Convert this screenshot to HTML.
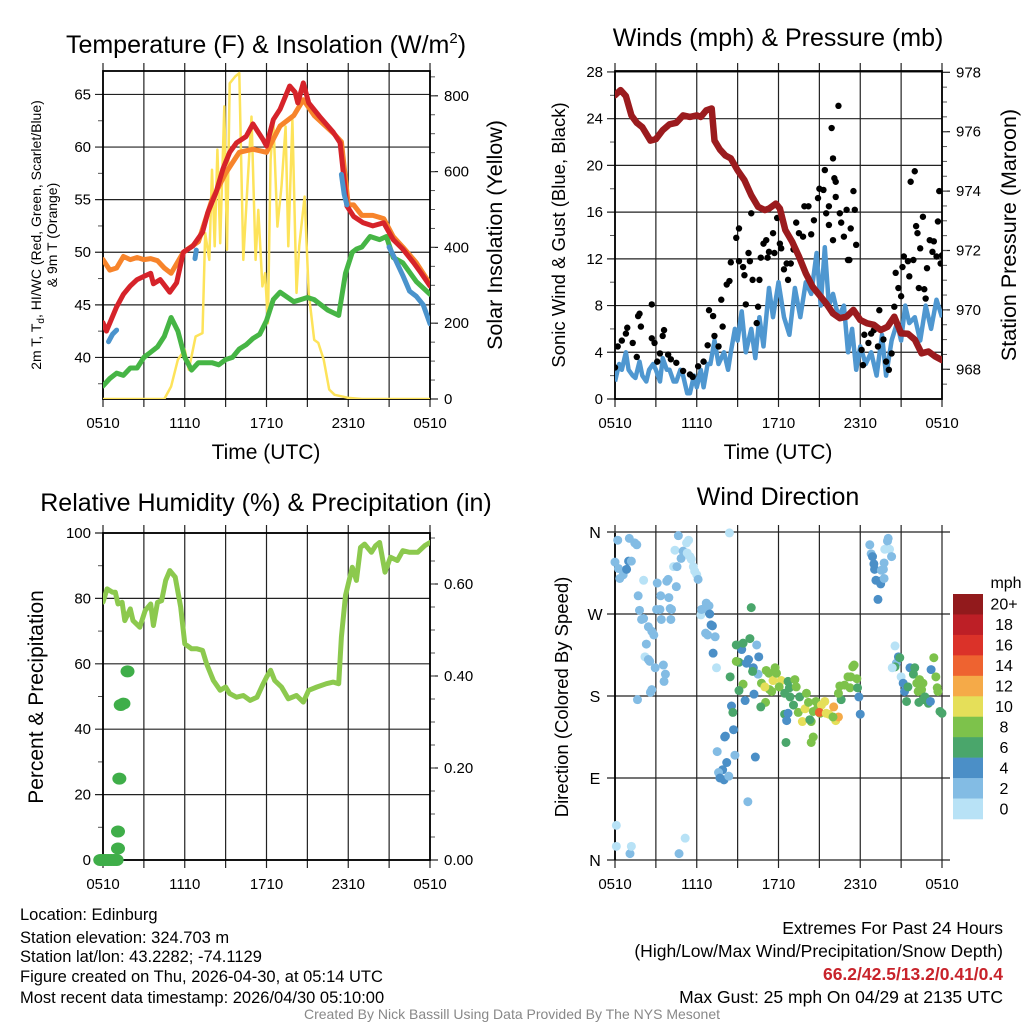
<!DOCTYPE html>
<html><head><meta charset="utf-8"><style>
html,body{margin:0;padding:0;background:#fff;}
svg{display:block;font-family:"Liberation Sans",Arial,sans-serif;}
</style></head><body>
<svg id="fig" width="1024" height="1024" viewBox="0 0 1024 1024" xmlns="http://www.w3.org/2000/svg">
<g id="layer"></g>
<text x="266" y="53" font-size="25" text-anchor="middle">Temperature (F) &amp; Insolation (W/m<tspan font-size="15" dy="-10">2</tspan><tspan dy="10">)</tspan></text>
<text x="778" y="46" font-size="25" text-anchor="middle">Winds (mph) &amp; Pressure (mb)</text>
<text x="266" y="511" font-size="25" text-anchor="middle">Relative Humidity (%) &amp; Precipitation (in)</text>
<text x="778" y="505" font-size="25" text-anchor="middle">Wind Direction</text>
<text x="266" y="459" font-size="21" text-anchor="middle">Time (UTC)</text>
<text x="778" y="459" font-size="21" text-anchor="middle">Time (UTC)</text>
<text transform="translate(41,235) rotate(-90)" font-size="14" text-anchor="middle">2m T, T<tspan font-size="10" dy="3">d</tspan><tspan dy="-3">, HI/WC (Red, Green, Scarlet/Blue)</tspan></text>
<text transform="translate(57,235) rotate(-90)" font-size="14" text-anchor="middle">&amp; 9m T (Orange)</text>
<text transform="translate(502,235) rotate(-90)" font-size="21.5" text-anchor="middle">Solar Insolation (Yellow)</text>
<text transform="translate(565,235) rotate(-90)" font-size="18.5" text-anchor="middle">Sonic Wind &amp; Gust (Blue, Black)</text>
<text transform="translate(1016,235) rotate(-90)" font-size="21.5" text-anchor="middle">Station Pressure (Maroon)</text>
<text transform="translate(43,697) rotate(-90)" font-size="21" text-anchor="middle">Percent &amp; Precipitation</text>
<text transform="translate(568,697) rotate(-90)" font-size="18.5" text-anchor="middle">Direction (Colored By Speed)</text>
<g font-size="16.5">
<text x="20" y="920">Location: Edinburg</text>
<text x="20" y="943">Station elevation: 324.703 m</text>
<text x="20" y="962">Station lat/lon: 43.2282; -74.1129</text>
<text x="20" y="982">Figure created on Thu, 2026-04-30, at 05:14 UTC</text>
<text x="20" y="1003">Most recent data timestamp: 2026/04/30 05:10:00</text>
</g>
<g font-size="17.5" text-anchor="end">
<text x="1003" y="934">Extremes For Past 24 Hours</text>
<text x="1003" y="957">(High/Low/Max Wind/Precipitation/Snow Depth)</text>
<text x="1003" y="980" fill="#c8232b" font-weight="bold">66.2/42.5/13.2/0.41/0.4</text>
<text x="1003" y="1003">Max Gust: 25 mph On 04/29 at 2135 UTC</text>
</g>
<text x="512" y="1019" font-size="14" fill="#888" text-anchor="middle">Created By Nick Bassill Using Data Provided By The NYS Mesonet</text>
</svg>
<script>
// ---------- data ----------
const xTickLabels=["0510","1110","1710","2310","0510"];
const tempTicks=[40,45,50,55,60,65];
const solarTicks=[0,200,400,600,800];
const windTicks=[0,4,8,12,16,20,24,28];
const presTicks=[968,970,972,974,976,978];
const rhTicks=[0,20,40,60,80,100];
const precipTicks=["0.00","0.20","0.40","0.60"];
const dirTicks=["N","E","S","W","N"];
const speedBins=["0","2","4","6","8","10","12","14","16","18","20+"];
const speedColors=["#b8e2f6","#83bce4","#4b8fc7","#4aa66b","#7dc24b","#e5df59","#f5aa48","#ee6330","#db3229","#bd1f26","#921a1c"];

const redH=[0,0.25,1,1.5,2,2.5,3,3.5,3.7,4.2,4.9,5.4,5.9,6.6,7.3,7.7,8.3,8.8,9.3,9.8,10.5,11,11.75,12,12.5,13,13.7,14.1,14.3,14.7,15.1,15.9,16.9,17.4,17.9,18.4,19.1,19.8,20.6,21.3,22,22.8,23.3,24];
const redV=[43.3,42.5,44.8,46,46.8,47.4,47.7,48,47,47.4,46.2,47.1,50,50.6,51.9,53.8,55.7,57.9,59.5,60.4,61,62.2,60.7,60.1,62.6,63.6,65.8,65.2,64.2,66.1,64.2,62.9,61.4,60.4,54.4,53.4,52.8,52.5,52.8,51.2,50.3,49,48.1,46.8];
const orangeH=[0,0.5,1,1.5,2,2.5,3,3.5,4,4.5,5,5.9,7,8,9,10,11,12,13,14,14.7,15.5,17,17.5,18,18.4,19,19.8,20.6,21.3,22,23,24];
const orangeV=[49.3,48.3,48.5,49.6,49.3,49.5,49.3,49.4,49.2,48.5,48,50,51,55,57.5,59.5,59.8,59.5,62,63,64.5,63,61.2,60.5,54.5,54.5,53.5,53.5,53.2,51.5,50.5,49,47];
const greenH=[0,0.5,1,1.5,2,2.5,3,3.5,4,4.5,5,5.5,6,6.5,7,8,8.5,9,9.5,10,10.5,11,11.5,12,12.5,13,14,14.5,15,15.5,16.5,17.3,17.8,18.3,18.6,19,19.6,20.3,20.8,21.3,22,23,24];
const greenV=[37.3,38,38.5,38.3,39,39,40,40.5,41,42,43.8,42.5,40,38.8,39.5,39.5,39.3,39.8,40,40.8,41.2,41.8,42.2,43.5,45.5,46.2,45.3,45.5,45.7,45.5,44.5,44,48,50,50.3,50.5,51.5,51.2,51.5,49.5,49,47.2,46];
const blueSegsH=[[0.4,0.7,1.0],[6.75,6.85],[17.5,17.7,17.9],[21,21.5,22,22.5,23,23.5,24]];
const blueSegsV=[[41.5,42.2,42.6],[49.4,50.2],[57.4,55.5,54.5],[50.5,49.2,47.8,46.3,45.8,45,43.2]];
const solarH=[0,4.5,5,5.5,6,6.3,6.8,7.3,7.5,7.8,8,8.2,8.4,8.6,8.9,9.1,9.3,9.7,10,10.3,10.6,10.9,11.2,11.4,11.7,11.9,12.1,12.3,12.5,12.8,13.1,13.4,13.6,13.9,14.2,14.4,14.8,15.1,15.5,15.8,16.2,16.6,17,17.5,18,19,24];
const solarV=[0,0,33,104,130,77,165,174,438,367,605,403,658,411,772,394,833,851,860,367,561,745,367,499,297,332,200,631,737,455,561,719,403,737,280,403,534,280,156,148,104,25,11,7,3,0,0];

const presH=[0,0.4,0.8,1.2,1.6,2,2.6,3,3.5,4,4.5,5,5.5,6,6.3,6.7,7.1,7.3,7.7,8.1,8.5,9,9.5,10,10.5,11,11.3,11.8,12.1,12.5,13,13.5,14,14.5,15,15.5,16,16.5,17,17.5,18,18.5,19,19.5,20,20.5,21,21.5,22,22.5,23,23.5,24];
const presV=[977.23,977.4,977.2,976.55,976.3,976.15,975.7,975.75,976.05,976.25,976.3,976.55,976.5,976.55,976.5,976.72,976.78,975.7,975.4,975.2,975.1,974.7,974.37,973.86,973.47,973.36,973.41,973.58,973.41,972.69,972.3,971.8,971.23,970.78,970.5,970.22,969.88,969.72,969.77,970,969.66,969.55,969.5,969.32,969.43,969.77,969.21,969.2,969,968.54,968.6,968.43,968.31];
const sonicH=[0,0.3,0.5,0.8,1,1.3,1.5,1.8,2,2.3,2.5,2.8,3,3.3,3.5,3.8,4,4.3,4.5,4.8,5,5.3,5.5,5.8,6,6.3,6.5,6.8,7,7.3,7.6,8,8.3,8.5,8.8,9,9.3,9.6,10,10.3,10.6,10.9,11.3,11.6,12,12.4,12.8,13.2,13.6,14,14.4,14.8,15.1,15.4,15.7,16,16.4,16.8,17.1,17.4,17.7,18,18.4,18.8,19.2,19.6,19.9,20.3,20.7,21,21.3,21.6,22,22.4,22.8,23.2,23.6,24];
const sonicV=[1.5,3,2.5,4,2.5,2,1.8,3.2,2,1.5,2.5,3,2.5,1.5,3.5,2.5,2.5,1.5,1.5,2.5,2,0.5,0.5,2,1,2.5,1,3,3,5,3,4,2.5,4,6,5,7.5,4,6,3.5,7,4.5,9.5,7,10,7,5.5,9.5,7,10,9,12.5,8,13,8,9,7,8,4,6,2.5,4.5,3,4,2,5.5,2,5,6.5,5,8,6.5,7,5,8,6,8.5,7];
const gustH=[0,0.2,0.5,0.8,0.9,1.3,1.6,1.7,1.9,1.8,2.7,2.7,2.9,3.1,3.3,3.5,3.6,3.9,4.1,4.5,5,5.5,5.7,6.1,6.5,6.8,6.9,7.2,7.3,7.6,7.8,7.9,8.2,8.4,8.5,8.9,9.1,9.1,9.4,9.5,9.6,9.8,9.9,10,10.1,10.4,10.5,10.6,10.7,10.9,11.1,11.2,11.3,11.6,11.7,11.9,12.1,12.2,12.4,12.6,12.7,12.9,13.1,13.3,13.5,13.8,13.9,14.2,14.4,14.6,14.9,15,15.3,15.4,15.5,15.7,15.7,15.9,16,16,16.1,16.2,16.4,16.2,16.5,16.6,16.8,17,17.1,17.2,17.3,17.5,17.6,17.7,18.1,18.2,18.3,18.6,18.8,19,19.3,19.4,19.7,19.9,20.1,20.3,20.5,20.6,20.8,21,21.1,21.2,21.5,21.6,21.7,21.9,22,22.1,22.2,22.3,22.4,22.6,22.7,22.8,22.9,23.1,23.3,23.4,23.6,23.7,23.8,23.9,24];
const gustV=[2.7,4.5,5,5.6,6.1,4.8,3.6,7.1,6.2,7.3,5.2,8.1,4.8,3.2,3.9,5.4,5.9,3.8,3.4,3.1,2.4,2.1,1.9,2.8,3.2,4.6,7.6,7.1,5.4,4.5,8.5,6.2,9.8,10.1,11.7,13.8,14.6,11.8,11.3,10.6,8.1,12.5,11.8,15.9,10.2,6.5,7.9,10.2,12.1,13.3,13.6,12.1,12.6,14.2,12.5,15.5,13.3,12.9,11.1,11.6,10.2,11.6,12.8,15.1,14.2,13.9,16.5,16.5,14.1,15.3,17.2,18,17.9,19.6,15.9,16.5,14.9,23.2,20.6,13.6,18.9,18.6,25.1,17.3,15.9,15.1,13.9,16.2,11.9,11.9,14.6,17.8,16.2,13.2,4.2,2.9,5.5,4.8,5.6,5.9,4.5,7.6,5.1,3.2,2.5,3.9,7.9,10.8,9.5,8.8,11.3,12.2,11.8,10.5,18.6,11.9,19.5,14.8,14.2,9.5,12.9,15.6,9.4,8.6,11.2,13.6,12.6,13.5,12.2,15.2,17.8,11.6,12.3];

const rhH=[0,0.3,0.7,0.9,1.1,1.4,1.6,2,2.2,2.7,3.1,3.5,3.7,4,4.3,4.6,4.9,5.3,5.7,6,6.5,6.9,7.3,7.6,8.1,8.6,9,9.3,9.8,10.3,10.8,11.3,11.7,12,12.3,12.6,13.1,13.6,14.2,14.7,15.1,15.7,16.4,16.9,17.3,17.5,17.8,18.3,18.6,18.9,19.2,19.7,20,20.3,20.7,21.1,21.6,22,22.5,23.1,23.6,24];
const rhV=[78.9,82.9,81.9,81.9,78.3,78.8,73.2,76.8,73.2,71.2,76.3,78.3,71.7,78.8,79.3,85.5,88.5,86.5,77.3,66.1,64.6,64.6,64.1,60,54.9,51.9,52.9,50.9,49.8,50.3,48.8,49.8,53.4,55.9,58,54.9,52.9,49.3,50.3,48.3,51.9,52.9,53.9,54.4,53.9,68.2,80.9,89.5,85.5,95.6,96.6,94.1,96.1,97.1,88,92.6,91.6,94.6,94.1,94.1,96.1,97.1];
const precipH=[-0.2,0,0.2,0.4,0.6,0.8,1.0,1.1,1.1,1.2,1.3,1.5,1.8];
const precipV=[0,0,0,0,0,0,0,0.025,0.062,0.177,0.337,0.34,0.41];

const dirH=[0.2,0,0.25,0.35,0.6,0.85,1.0,1.2,1.05,1.45,1.6,2.1,1.7,1.8,1.95,2.1,2.45,2.7,2.85,2.3,2.2,2.45,2.55,2.95,2.7,2.6,1.65,3.1,3.35,3.05,3.3,3.4,3.8,3.9,3.95,4.05,4.15,4.1,4.5,3.55,3.7,3.6,4.3,4.55,4.65,4.4,4.85,5.0,5.25,5.4,5.3,5.5,5.6,5.75,5.85,6.0,6.1,8.4,6.3,6.35,6.55,6.7,6.9,6.95,7.05,7.15,6.65,6.8,7.35,7.2,7.45,9.3,9.1,8.9,8.9,9.4,9.9,10.0,9.8,9.65,10.15,10.4,10.55,10.5,10.1,9.4,9.1,8.45,9.55,10.2,10.75,11.1,11.3,11.6,11.75,11.85,12.2,12.05,11.35,11.5,11.0,11.05,10.7,8.55,8.65,8.7,8.1,8.05,7.5,8.8,8.2,7.9,7.6,7.7,8.0,8.35,10.3,9.75,12.45,12.7,12.8,13.2,13.3,12.85,13.1,13.55,14.05,12.45,12.7,12.6,13.45,13.75,13.95,14.2,14.4,14.55,14.75,15.05,14.9,15.15,15.4,15.0,15.5,15.7,16.05,16.2,16.4,16.0,14.3,14.55,14.4,12.55,16.6,16.4,16.5,16.85,17.25,17.45,17.55,17.3,17.1,17.75,17.8,17.9,18.0,18.7,18.8,18.9,19.0,19.05,19.15,19.4,19.5,19.3,19.55,19.7,19.75,19.8,20.0,20.05,20.15,20.3,19.75,20.55,20.65,20.8,20.9,20.55,20.35,21.0,21.15,21.25,21.4,21.5,21.65,21.9,22.0,22.15,22.35,22.6,22.5,22.25,22.75,22.3,22.6,23.0,23.15,23.2,23.4,23.55,23.65,23.7,23.85,24.0,0.1,0.1,1.1,1.2,4.7,5.15];
const dirV=[351,327,320,309,313,319,328,328,353,348,346,307,290,274,264,265,256,251,247,237,223,220,218,211,187,184,176,304,290,275,275,264,306,308,288,276,275,264,300,214,204,196,322,322,356,340,331,339,348,351,337,333,330,322,317,313,308,359,269,275,276,282,279,270,258,257,249,247,245,227,211,231,217,218,236,238,243,277,220,216,211,236,223,204,207,193,186,201,175,182,194,208,205,197,211,205,197,190,187,185,190,173,168,169,162,143,136,135,119,115,107,99,96,90,88,92,113,64,183,196,189,198,190,179,170,179,183,160,161,153,162,152,166,173,152,163,174,161,168,170,174,162,161,160,168,153,157,157,154,135,129,129,176,183,191,192,189,212,214,201,201,199,189,179,160,346,336,333,325,319,307,306,303,286,318,319,326,341,350,353,341,333,309,235,216,223,222,212,211,201,194,185,174,190,211,204,211,194,198,194,187,185,179,173,176,172,174,209,222,201,189,185,163,161,38,15,7,15,7,24];
const dirSpd=[3,3,3,3,3,5,5,3,3,3,3,1,3,3,3,3,3,3,3,3,1,3,3,3,3,3,3,3,3,3,3,3,3,3,3,3,3,3,3,3,3,3,1,3,3,1,3,3,1,1,1,1,1,1,1,1,3,1,1,3,3,3,3,5,5,5,3,3,3,5,1,5,7,9,7,7,7,7,5,5,5,3,5,3,7,9,7,7,5,5,9,9,9,11,9,9,11,9,9,9,11,9,7,5,7,5,5,5,3,3,5,5,3,5,5,3,5,3,7,7,7,9,9,7,7,7,9,7,5,5,9,11,11,9,9,9,9,9,9,11,11,15,11,11,13,11,13,9,7,9,9,7,7,9,9,9,9,9,9,9,9,9,7,5,5,3,3,5,5,5,5,5,5,5,3,3,3,1,3,3,1,3,3,1,3,5,7,7,1,1,5,5,7,7,5,7,7,9,9,9,9,9,7,7,7,7,5,5,9,9,9,9,7,7,1,1,3,1,3,1];

// ---------- helpers ----------
const NS="http://www.w3.org/2000/svg";
const layer=document.getElementById('layer');
function mk(tag,attrs,parent){const e=document.createElementNS(NS,tag);for(const k in attrs)e.setAttribute(k,attrs[k]);(parent||layer).appendChild(e);return e;}
const L0=103,L1=430,R0=615,R1=942;
const xL=h=>L0+h*(L1-L0)/24;
const xR=h=>R0+h*(R1-R0)/24;
const yTemp=v=>399-(v-36.05)*10.52;
const ySolar=v=>399-v*0.379;
const yWind=v=>399-v*11.68;
const yPres=v=>399-(v-967)*29.7;
const yRH=v=>860-v*3.27;
const yPrecip=v=>860-v*460;
const yDir=v=>860-v*328/360;

function pathFrom(H,V,fx,fy){let d="";for(let i=0;i<H.length;i++){d+=(i?"L":"M")+fx(H[i]).toFixed(1)+","+fy(V[i]).toFixed(1);}return d;}

function frame(x0,x1,y0,y1,name){
  const g=mk('g',{});
  
  
  for(let i=0;i<=8;i++){const x=x0+i*(x1-x0)/8;
    const l=mk('line',{x1:x,x2:x,y1:y0-8,y2:y1+8,stroke:'#222','stroke-width':1.2},g);
    
    }
  for(let i=0;i<5;i++){const t=mk('text',{x:x0+i*(x1-x0)/4,y:y1+29,'font-size':15,'text-anchor':'middle'},g);t.textContent=xTickLabels[i];
    
    }
  return g;
}
function yTicks(g,vals,fy,x,anchor,fmt,tick){
  vals.forEach(v=>{const y=fy(v);
    mk('line',{x1:x,x2:x+tick,y1:y,y2:y,stroke:'#222','stroke-width':1.2},g);
    const t=mk('text',{x:anchor==='end'?x-4:x+tick+6,y:y+5,'font-size':15,'text-anchor':anchor==='end'?'end':'start'},g);
    t.textContent=fmt(v);
    
    });
}
function minor(g,x,from,to,step,fy,dir){for(let v=from;v<=to+1e-9;v+=step){const y=fy(v);mk('line',{x1:x,x2:x+dir*5,y1:y,y2:y,stroke:'#555','stroke-width':1},g);}}
function border(g,x0,x1,y0,y1){mk('rect',{x:x0,y:y0,width:x1-x0,height:y1-y0,fill:'none',stroke:'#000','stroke-width':1.8},g);}
function clip(id,x0,x1,y0,y1){const c=mk('clipPath',{id:id});mk('rect',{x:x0,y:y0,width:x1-x0,height:y1-y0},c);}

// ---------- Panel 1: temperature ----------
clip('c1',L0,L1,71,399);
let g1=frame(L0,L1,71,399,'temperature');
tempTicks.forEach(v=>mk('line',{x1:L0-8,x2:L1,y1:yTemp(v),y2:yTemp(v),stroke:'#222','stroke-width':1.2},g1));
yTicks(g1,tempTicks,yTemp,L0-8,'end',v=>v,0);
minor(g1,L0,37.5,67,5,yTemp,-1);
yTicks(g1,solarTicks,ySolar,L1,'start',v=>v,8);
minor(g1,L1,50,850,50,ySolar,1);
let d1=mk('g',{'clip-path':'url(#c1)'});


let p;
p=mk('path',{d:pathFrom(solarH,solarV,xL,ySolar),fill:'none',stroke:'#fde35a','stroke-width':2.5,'stroke-linejoin':'round'},d1);


p=mk('path',{d:pathFrom(greenH,greenV,xL,yTemp),fill:'none',stroke:'#46b545','stroke-width':5,'stroke-linejoin':'round','stroke-linecap':'round'},d1);


p=mk('path',{d:pathFrom(orangeH,orangeV,xL,yTemp),fill:'none',stroke:'#f7842b','stroke-width':5,'stroke-linejoin':'round','stroke-linecap':'round'},d1);


p=mk('path',{d:pathFrom(redH,redV,xL,yTemp),fill:'none',stroke:'#d6232a','stroke-width':5,'stroke-linejoin':'round','stroke-linecap':'round'},d1);


blueSegsH.forEach((H,i)=>{const b=mk('path',{d:pathFrom(H,blueSegsV[i],xL,yTemp),fill:'none',stroke:'#4a93cc','stroke-width':5,'stroke-linecap':'round','stroke-linejoin':'round'},d1);
 
 });
border(g1,L0,L1,71,399);

// ---------- Panel 2: winds ----------
clip('c2',R0,R1,71,399);
let g2=frame(R0,R1,71,399,'winds');
windTicks.forEach(v=>mk('line',{x1:R0-8,x2:R1,y1:yWind(v),y2:yWind(v),stroke:'#222','stroke-width':1.2},g2));
yTicks(g2,windTicks,yWind,R0-8,'end',v=>v,0);
minor(g2,R0,2,26,4,yWind,-1);
yTicks(g2,presTicks,yPres,R1,'start',v=>v,8);
minor(g2,R1,967.5,977.5,0.5,yPres,1);
let d2=mk('g',{'clip-path':'url(#c2)'});


p=mk('path',{d:pathFrom(sonicH,sonicV,xR,yWind),fill:'none',stroke:'#4f97d0','stroke-width':4.5,'stroke-linejoin':'round'},d2);


gustH.forEach((h,i)=>{const c=mk('circle',{cx:xR(h),cy:yWind(gustV[i]),r:3.2,fill:'#000'},d2);
 
 });
p=mk('path',{d:pathFrom(presH,presV,xR,yPres),fill:'none',stroke:'#9b1b1e','stroke-width':6.5,'stroke-linejoin':'round','stroke-linecap':'round'},d2);


border(g2,R0,R1,71,399);

// ---------- Panel 3: humidity ----------
clip('c3',L0,L1,533,860);
let g3=frame(L0,L1,533,860,'humidity');
rhTicks.forEach(v=>mk('line',{x1:L0-8,x2:L1,y1:yRH(v),y2:yRH(v),stroke:'#222','stroke-width':1.2},g3));
yTicks(g3,rhTicks,yRH,L0-8,'end',v=>v,0);
minor(g3,L0,10,90,20,yRH,-1);
yTicks(g3,precipTicks.map(Number),yPrecip,L1,'start',v=>v.toFixed(2),8);
minor(g3,L1,0.05,0.7,0.05,yPrecip,1);
let d3=mk('g',{});


p=mk('path',{d:pathFrom(rhH,rhV,xL,yRH),fill:'none',stroke:'#8cc94e','stroke-width':5,'stroke-linejoin':'round','stroke-linecap':'round','clip-path':'url(#c3)'},d3);


precipH.forEach((h,i)=>{const e=mk('ellipse',{cx:xL(h),cy:yPrecip(precipV[i]),rx:7,ry:6,fill:'#3fae49'},d3);
 
 });
border(g3,L0,L1,533,860);

// ---------- Panel 4: wind direction ----------
clip('c4',R0-6,R1+6,527,866);
let g4=frame(R0,R1,533,860,'wind-direction');
[0,90,180,270,360].forEach((v,i)=>{const y=yDir(v);
 mk('line',{x1:R0-8,x2:R1+8,y1:y,y2:y,stroke:'#222','stroke-width':1.2},g4);
 const t=mk('text',{x:R0-20,y:y+6,'font-size':16,'text-anchor':'middle'},g4);t.textContent=dirTicks[i];
 
 });
let d4=mk('g',{'clip-path':'url(#c4)'});


dirH.forEach((h,i)=>{const bin=Math.min(10,Math.floor(dirSpd[i]/2));
 const c=mk('circle',{cx:xR(h),cy:yDir(dirV[i]),r:4.5,fill:speedColors[bin]},d4);
 
 });
mk('line',{x1:R0,x2:R0,y1:533,y2:860,stroke:'#000','stroke-width':1.8},g4);

// legend
const lg=mk('g',{});


const lt=mk('text',{x:1006,y:588,'font-size':16,'text-anchor':'middle'},lg);lt.textContent='mph';


const bh=225/11;
for(let i=0;i<11;i++){const k=10-i;const y=594+i*bh;
 const r=mk('rect',{x:953,y:y,width:30,height:bh+0.3,fill:speedColors[k]},lg);
 
 
 const t=mk('text',{x:1004,y:y+bh/2+5.5,'font-size':16,'text-anchor':'middle'},lg);t.textContent=speedBins[k];
 
 }
</script>
</body></html>
